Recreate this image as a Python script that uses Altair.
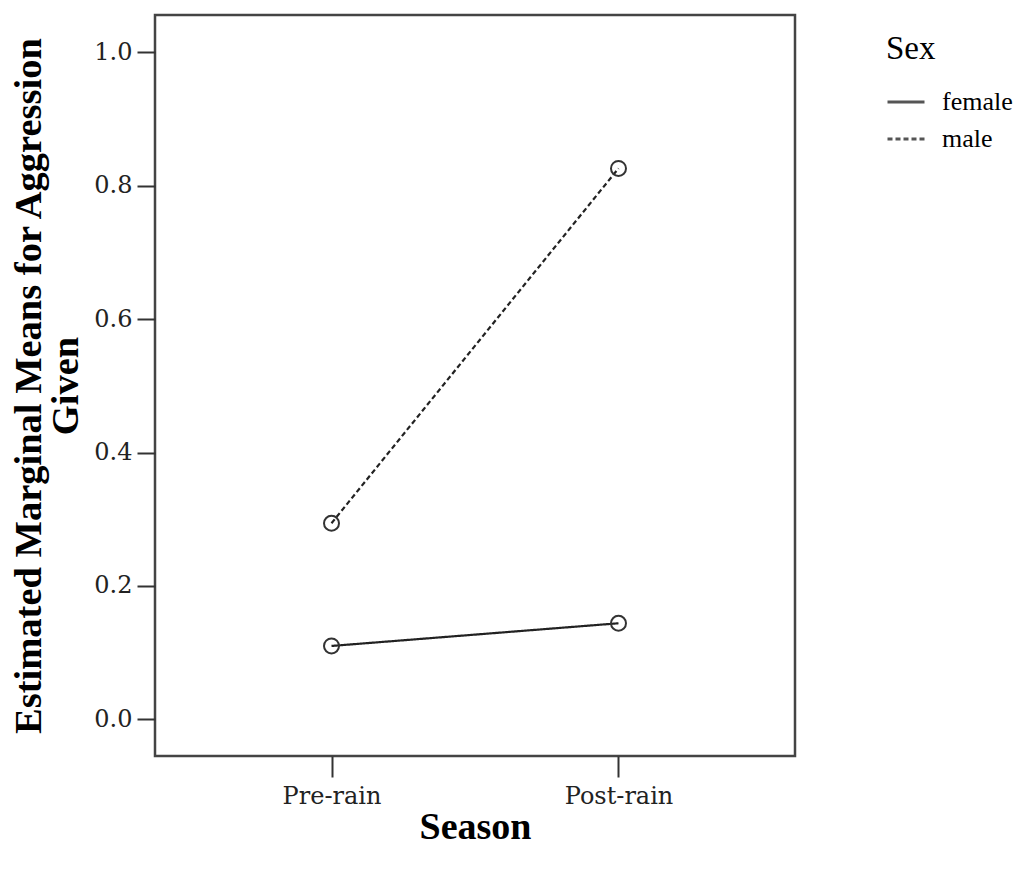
import altair as alt
import pandas as pd

seasons = ["Pre-rain", "Post-rain"]
sexes = ["female", "male"]
female_means = [0.110, 0.144]
male_means = [0.294, 0.826]
y_ticks = [0.0, 0.2, 0.4, 0.6, 0.8, 1.0]

rows = []
for sex, vals in zip(sexes, [female_means, male_means]):
    for season, v in zip(seasons, vals):
        rows.append({"Season": season, "Sex": sex, "Mean": v})
df = pd.DataFrame(rows)

x_enc = alt.X(
    "Season:N",
    sort=seasons,
    scale=alt.Scale(type="point", padding=0.615),
    axis=alt.Axis(
        title="Season",
        labelAngle=0,
        titleX=320,
        titleY=82,
        titleBaseline="alphabetic",
        titleAlign="center",
        tickSize=21,
        labelPadding=7,
    ),
)
y_enc = alt.Y(
    "Mean:Q",
    scale=alt.Scale(domain=[-0.055, 1.056], nice=False, zero=False),
    axis=alt.Axis(
        title=["Estimated Marginal Means for Aggression", "Given"],
        values=y_ticks,
        format=".1f",
        titleAngle=270,
        titleX=-115,
        titleY=370.5,
        titleBaseline="alphabetic",
        titleAlign="center",
        titleLineHeight=37,
        titleFontSize=38.5,
        tickSize=18,
        labelPadding=5,
    ),
)

lines = alt.Chart(df).mark_line(color="#222", strokeWidth=2.2).encode(
    x=x_enc,
    y=y_enc,
    strokeDash=alt.StrokeDash(
        "Sex:N",
        scale=alt.Scale(domain=sexes, range=[[1, 0], [5, 3]]),
        legend=alt.Legend(
            title="Sex",
            orient="none",
            legendX=731,
            legendY=18,
            symbolType="stroke",
            symbolSize=1369,
            symbolStrokeWidth=3,
            symbolStrokeColor="#555",
            labelFont="Liberation Serif",
            labelFontSize=26,
            labelColor="#000",
            labelOffset=16,
            labelLimit=200,
            titleFont="Liberation Serif",
            titleFontSize=33,
            titleFontWeight="normal",
            titleColor="#000",
            titlePadding=16,
            rowPadding=4,
            padding=0,
        ),
    ),
)

points = alt.Chart(df).mark_point(
    shape="circle", filled=False, size=225, color="#333", strokeWidth=2, opacity=1
).encode(x=x_enc, y=y_enc, detail="Sex:N")

chart = (
    alt.layer(lines, points)
    .properties(
        width=640,
        height=741,
        autosize=alt.AutoSizeParams(type="none"),
        padding={"left": 147, "top": 7, "right": 224, "bottom": 90},
    )
    .configure_view(stroke="#444", strokeWidth=2.5)
    .configure_axis(
        domain=False,
        grid=False,
        tickColor="#333",
        tickWidth=2,
        labelFont="DejaVu Serif",
        labelFontSize=24,
        labelColor="#222",
        titleFont="Liberation Serif",
        titleFontSize=38,
        titleFontWeight="bold",
        titleColor="#000",
    )
)

chart.save("out.html", embed_options={"renderer": "svg", "actions": False})
